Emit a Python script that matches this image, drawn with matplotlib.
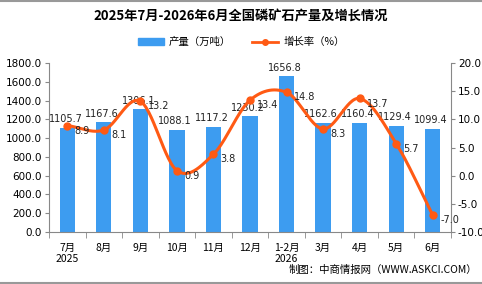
import numpy as np
import matplotlib
matplotlib.use("Agg")
import matplotlib.pyplot as plt
from matplotlib.lines import Line2D
from matplotlib.patches import Patch

plt.rcParams['font.family'] = ['Noto Sans CJK SC', 'DejaVu Sans']

categories = ["7月\n2025", "8月", "9月", "10月", "11月", "12月", "1-2月\n2026", "3月", "4月", "5月", "6月"]
production = [1105.7, 1167.6, 1306.1, 1088.1, 1117.2, 1230.2, 1656.8, 1162.6, 1160.4, 1129.4, 1099.4]
growth = [8.9, 8.1, 13.2, 0.9, 3.8, 13.4, 14.8, 8.3, 13.7, 5.7, -7.0]

title = "2025年7月-2026年6月全国磷矿石产量及增长情况"
bar_color = "#3d9cf0"
line_color = "#ff5a14"

fig = plt.figure(figsize=(4.82, 2.84), dpi=100)
ax = fig.add_axes([49/482, 1 - 232/284, (451-49)/482, (232-63)/284])
ax2 = ax.twinx()

x = np.arange(len(categories))
ax.bar(x, production, width=0.42, color=bar_color, zorder=2)
ax.set_ylim(0, 1800)
ax.set_yticks(np.arange(0, 1801, 200))
ax.set_yticklabels([f"{v:.1f}" for v in np.arange(0, 1801, 200)], fontsize=7.5, family='DejaVu Sans')
ax.set_xlim(-0.5, len(categories) - 0.5)
ax.set_xticks(x)
ax.set_xticklabels(categories, fontsize=7.5, linespacing=1.1)
ax.tick_params(axis='x', length=0, pad=8)
ax.set_xticks(np.arange(-0.5, len(categories), 1), minor=True)
ax.tick_params(axis='x', which='minor', length=4, color='#888888')
ax.tick_params(axis='y', length=3, color='#888888', pad=2)

for s in ['top', 'right']:
    ax.spines[s].set_visible(False)
    ax2.spines[s].set_visible(False)
ax.spines['left'].set_color('#888888')
ax.spines['bottom'].set_color('#888888')
ax2.spines['left'].set_visible(False)
ax2.spines['bottom'].set_visible(False)
ax2.spines['right'].set_visible(True)
ax2.spines['right'].set_color('#888888')

# smooth curve (Catmull-Rom) through the data points
def catmull(xs, ys, n=30):
    xs = np.asarray(xs, float); ys = np.asarray(ys, float)
    px = np.concatenate([[2*xs[0]-xs[1]], xs, [2*xs[-1]-xs[-2]]])
    py = np.concatenate([[2*ys[0]-ys[1]], ys, [2*ys[-1]-ys[-2]]])
    ox, oy = [], []
    for i in range(1, len(px) - 2):
        t = np.linspace(0, 1, n, endpoint=False)
        for arr, out in ((px, ox), (py, oy)):
            p0, p1, p2, p3 = arr[i-1], arr[i], arr[i+1], arr[i+2]
            out.extend(0.5*((2*p1) + (-p0+p2)*t + (2*p0-5*p1+4*p2-p3)*t**2 + (-p0+3*p1-3*p2+p3)*t**3))
    ox.append(xs[-1]); oy.append(ys[-1])
    return np.array(ox), np.array(oy)

sx, sy = catmull(x, growth)
ax2.plot(sx, sy, color=line_color, lw=2.2, zorder=3)
ax2.plot(x, growth, 'o', color=line_color, ms=5, zorder=4)
ax2.set_ylim(-10, 20)
ax2.set_yticks(np.arange(-10, 21, 5))
ax2.set_yticklabels([f"{v:.1f}" for v in np.arange(-10, 21, 5)], fontsize=7.5, family='DejaVu Sans')
ax2.tick_params(axis='y', length=3, color='#888888', pad=2)

for xi, v in zip(x, production):
    ax.text(xi - 0.05, v + 40, f"{v:.1f}", ha='center', va='bottom', fontsize=7, family='DejaVu Sans', color='#222222', zorder=5)
for xi, v in zip(x, growth):
    ax2.text(xi + 0.2, v - 0.9, f"{v:.1f}", ha='left', va='center', fontsize=7, family='DejaVu Sans', color='#222222', zorder=5)

fig.text(0.5, 1 - 16/284, title, ha='center', va='center', fontsize=9.5, fontweight='bold')
handles = [Patch(color=bar_color, label="产量（万吨）"),
           Line2D([0], [0], color=line_color, lw=2, marker='o', ms=4, label="增长率（%）")]
fig.legend(handles=handles, loc='center', bbox_to_anchor=(0.5, 1 - 42/284), ncol=2, frameon=False,
           fontsize=7.5, handlelength=2.5, handleheight=0.6, handletextpad=0.5, columnspacing=2)
fig.text(0.99, 1 - 270/284, "制图：中商情报网（WWW.ASKCI.COM）", ha='right', va='center', fontsize=7.5)

fig.add_artist(Line2D([0, 1], [0.998, 0.998], color='#999999', lw=1.5, transform=fig.transFigure))
fig.add_artist(Line2D([0, 1], [0.003, 0.003], color='#999999', lw=1.5, transform=fig.transFigure))

fig.savefig("out.png", dpi=100)
